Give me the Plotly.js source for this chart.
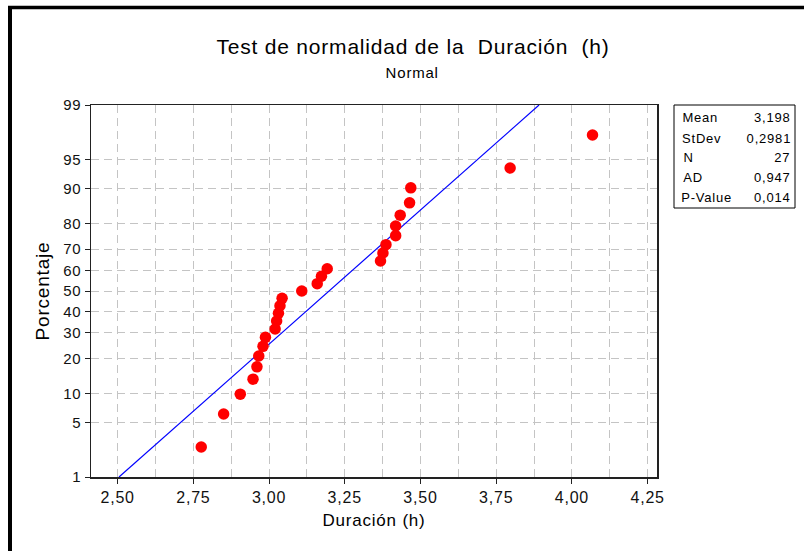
<!DOCTYPE html>
<html>
<head>
<meta charset="utf-8">
<script src="https://cdn.plot.ly/plotly-3.0.1.min.js"></script>
<style>
html,body{margin:0;padding:0;background:#fff;}
#chart{width:804px;height:551px;}
#chart svg text{letter-spacing:0.8px;}
</style>
</head>
<body>
<div id="chart"></div>
<script>
// Data
const duracion = [2.776, 2.850, 2.905, 2.947, 2.960, 2.966, 2.980, 2.988,
                  3.020, 3.025, 3.031, 3.036, 3.043, 3.108, 3.159, 3.173, 3.192,
                  3.368, 3.376, 3.386, 3.418, 3.418, 3.433, 3.464, 3.468, 3.796, 4.068];
const porcentaje = [2.55, 6.20, 9.85, 13.50, 17.15, 20.80, 24.45, 28.10,
                    31.75, 35.40, 39.05, 42.70, 46.35, 50.00, 53.65, 57.30, 60.95,
                    64.60, 68.25, 71.90, 75.55, 79.20, 82.85, 86.50, 90.15, 93.80, 97.45];
const yTickPercents = [1, 5, 10, 20, 30, 40, 50, 60, 70, 80, 90, 95, 99];
const xTickVals = [2.50, 2.75, 3.00, 3.25, 3.50, 3.75, 4.00, 4.25];
const fitPercents = [1, 99];
const statLabels = ["Mean", "StDev", "N", "AD", "P-Value"];
const statValues = ["3,198", "0,2981", "27", "0,947", "0,014"];
const mean = 3.198, stdev = 0.2981;

// inverse standard normal CDF (Acklam)
function qnorm(p) {
  const a = [-3.969683028665376e+01, 2.209460984245205e+02, -2.759285104469687e+02, 1.383577518672690e+02, -3.066479806614716e+01, 2.506628277459239e+00];
  const b = [-5.447609879822406e+01, 1.615858368580409e+02, -1.556989798598866e+02, 6.680131188771972e+01, -1.328068155288572e+01];
  const c = [-7.784894002430293e-03, -3.223964580411365e-01, -2.400758277161838e+00, -2.549732539343734e+00, 4.374664141464968e+00, 2.938163982698783e+00];
  const d = [7.784695709041462e-03, 3.224671290700398e-01, 2.445134137142996e+00, 3.754408661907416e+00];
  const pl = 0.02425, ph = 1 - pl;
  let q, r;
  if (p < pl) { q = Math.sqrt(-2 * Math.log(p));
    return (((((c[0]*q+c[1])*q+c[2])*q+c[3])*q+c[4])*q+c[5]) / ((((d[0]*q+d[1])*q+d[2])*q+d[3])*q+1); }
  if (p <= ph) { q = p - 0.5; r = q*q;
    return (((((a[0]*r+a[1])*r+a[2])*r+a[3])*r+a[4])*r+a[5])*q / (((((b[0]*r+b[1])*r+b[2])*r+b[3])*r+b[4])*r+1); }
  q = Math.sqrt(-2 * Math.log(1 - p));
  return -(((((c[0]*q+c[1])*q+c[2])*q+c[3])*q+c[4])*q+c[5]) / ((((d[0]*q+d[1])*q+d[2])*q+d[3])*q+1);
}
const z = v => qnorm(v / 100);

// layout helpers: pixel -> paper
const L = 91, R = 657, T = 105, B = 477;
const PX = x => (x - L) / (R - L);
const PY = y => (B - y) / (B - T);

const FONT = "Liberation Sans, Arial, sans-serif";
const gridCol = "#c4c4c4";

const traces = [
  {
    x: fitPercents.map(p => mean + stdev * z(p)),
    y: fitPercents.map(z),
    mode: "lines", type: "scatter",
    line: {color: "#0000ff", width: 1.2},
    hoverinfo: "skip"
  },
  {
    x: duracion, y: porcentaje.map(z),
    mode: "markers", type: "scatter",
    marker: {color: "#ff0000", size: 11.5, line: {width: 0}}
  }
];

const annotations = [
  {text: "Test de normalidad de la  Duración  (h)", x: PX(413), y: PY(47), xref: "paper", yref: "paper",
   showarrow: false, font: {family: FONT, size: 21, color: "#000"}, xanchor: "center", yanchor: "middle"},
  {text: "Normal", x: PX(412), y: PY(72), xref: "paper", yref: "paper",
   showarrow: false, font: {family: FONT, size: 15, color: "#000"}, xanchor: "center", yanchor: "middle"}
];
const rowY = [118, 138, 157, 177, 197];
statLabels.forEach((s, i) => {
  annotations.push({text: s, x: PX(682), y: PY(rowY[i]), xref: "paper", yref: "paper", showarrow: false,
    xanchor: "left", yanchor: "middle", font: {family: FONT, size: 13, color: "#000"}});
  annotations.push({text: statValues[i], x: PX(791), y: PY(rowY[i]), xref: "paper", yref: "paper", showarrow: false,
    xanchor: "right", yanchor: "middle", font: {family: FONT, size: 13, color: "#000"}});
});

const shapes = [
  {type: "rect", xref: "paper", yref: "paper", x0: PX(674), x1: PX(795), y0: PY(105), y1: PY(208),
   line: {color: "#000", width: 1}, fillcolor: "rgba(0,0,0,0)"},
  {type: "line", xref: "paper", yref: "paper", x0: PX(8), x1: PX(806), y0: PY(7.5), y1: PY(7.5),
   line: {color: "#000", width: 3.5}},
  {type: "line", xref: "paper", yref: "paper", x0: PX(10), x1: PX(10), y0: PY(6), y1: PY(560),
   line: {color: "#000", width: 4}}
];

const layout = {
  width: 804, height: 551,
  margin: {l: L, r: 804 - R, t: T, b: 551 - B, pad: 0},
  paper_bgcolor: "#fff", plot_bgcolor: "#fff",
  showlegend: false,
  separators: ",.",
  font: {family: FONT, color: "#111"},
  xaxis: {
    range: [2.412, 4.281],
    tickvals: xTickVals, tickformat: ".2f",
    ticks: "outside", ticklen: 5, tickcolor: "#222",
    tickfont: {size: 16, color: "#111"},
    showline: true, linecolor: "#222", linewidth: 1.5, mirror: true,
    showgrid: true, gridcolor: gridCol, griddash: "8px,5px", gridwidth: 1,
    minor: {dtick: 0.125, tick0: 2.5, showgrid: true, gridcolor: gridCol, griddash: "8px,5px", gridwidth: 1, ticks: ""},
    zeroline: false,
    title: {text: "Duración (h)", font: {size: 17, color: "#000"}, standoff: 9}
  },
  yaxis: {
    range: [z(1), z(99)],
    tickvals: yTickPercents.map(z), ticktext: yTickPercents.map(String),
    ticks: "outside", ticklen: 5, tickcolor: "#222",
    tickfont: {size: 15, color: "#111"},
    showline: true, linecolor: "#222", linewidth: 1.5, mirror: true,
    showgrid: true, gridcolor: gridCol, griddash: "8px,5px", gridwidth: 1,
    zeroline: false,
    title: {text: "Porcentaje", font: {size: 19, color: "#000"}, standoff: 10}
  },
  annotations: annotations,
  shapes: shapes
};

Plotly.newPlot("chart", traces, layout, {displayModeBar: false, staticPlot: true});
</script>
</body>
</html>
